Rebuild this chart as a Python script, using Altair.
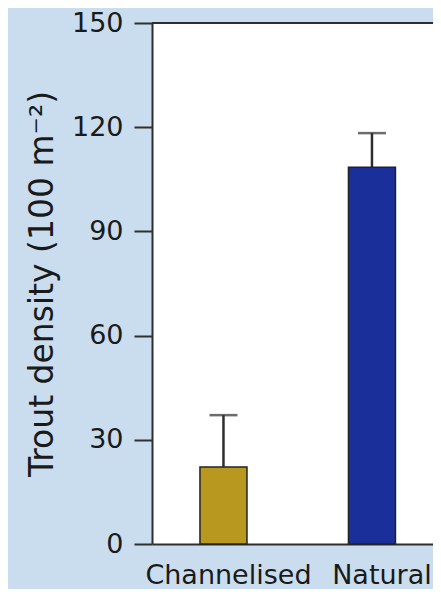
import altair as alt
import pandas as pd

categories = ["Channelised", "Natural"]
means = [22.2, 108.5]
upper = [37.1, 118.3]
colors = ["#b8981f", "#1a2f9a"]
y_ticks = [0, 30, 60, 90, 120, 150]

df = pd.DataFrame({"site": categories, "mean": means, "upper": upper, "color": colors})

W = 281
H = 521
FONT = "DejaVu Sans"
INK = "#1a1a1a"
LINE = "#2e2e2e"

xscale = alt.Scale(domain=categories, paddingInner=0.6835, paddingOuter=0.2879, align=0.561)
x = alt.X(
    "site:N",
    scale=xscale,
    sort=categories,
    axis=alt.Axis(
        title=None, labelAngle=0, ticks=False, domain=True, domainColor=LINE, domainWidth=2,
        labelFont=FONT, labelFontSize=27, labelColor=INK, labelPadding=18,
        labelOffset={"condition": {"test": "datum.value === 'Natural'", "value": 10}, "value": 5},
    ),
)
yscale = alt.Scale(domain=[0, 150], nice=False, zero=True)
y = alt.Y(
    "mean:Q",
    scale=yscale,
    axis=alt.Axis(
        values=y_ticks, title="Trout density (100 m⁻²)", titleFont=FONT, titleFontSize=33,
        titleFontWeight="normal", titleColor=INK, titlePadding=12,
        labelFont=FONT, labelFontSize=27, labelColor=INK, labelPadding=11,
        tickSize=18, tickWidth=2, tickColor=LINE, domainColor=LINE, domainWidth=2, grid=False,
    ),
)

base = alt.Chart(df)
err = base.mark_rule(color=LINE, strokeWidth=2.5).encode(x=x, y=y, y2="upper:Q")
bars = base.mark_bar(stroke="#222222", strokeWidth=1.5).encode(
    x=x, y=y, color=alt.Color("color:N", scale=None)
)
cap = base.mark_tick(color=LINE, thickness=2.5, size=28).encode(x=x, y=alt.Y("upper:Q", scale=yscale))
top = base.mark_rule(color=LINE, strokeWidth=2).encode(
    y=alt.datum(150), x=alt.value(0), x2=alt.value(W)
)

chart = (
    alt.layer(err, bars, cap, top)
    .properties(
        width=W, height=H,
        padding={"left": 144, "top": 15, "right": 0, "bottom": 45},
        autosize=alt.AutoSizeParams(type="none"),
        background="#c9ddee",
    )
    .configure_view(stroke=None, fill="white")
)

chart.save("out.html", embed_options={"renderer": "svg", "actions": False})
